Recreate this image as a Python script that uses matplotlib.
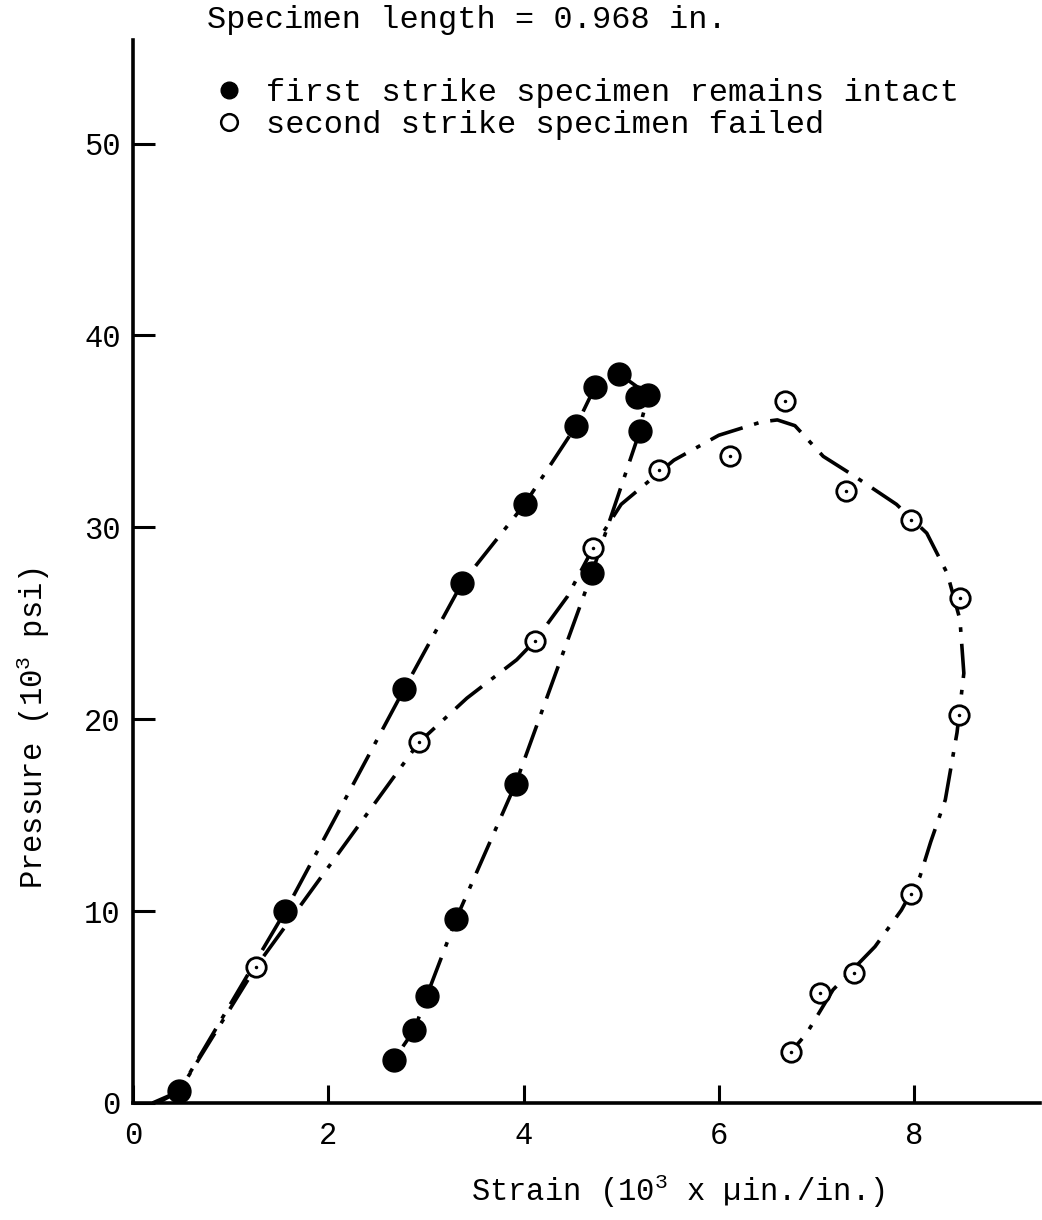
import matplotlib
matplotlib.use("Agg")
import matplotlib.pyplot as plt
from matplotlib.lines import Line2D

plt.rcParams['font.family'] = ['Liberation Mono', 'DejaVu Sans Mono']
plt.rcParams['mathtext.fontset'] = 'custom'
plt.rcParams['mathtext.rm'] = 'Liberation Mono'
plt.rcParams['mathtext.it'] = 'Liberation Mono'

# ---- data (strain in 10^3 uin/in, pressure in 10^3 psi) ----
first_x = [0.47, 1.56, 2.78, 3.37, 4.01, 4.54, 4.73, 4.98, 5.16, 5.28, 5.19,
           4.70, 3.92, 3.31, 3.01, 2.88, 2.67]
first_y = [0.6, 10.0, 21.6, 27.1, 31.2, 35.3, 37.3, 38.0, 36.8, 36.9, 35.0,
           27.6, 16.65, 9.6, 5.6, 3.8, 2.25]

second_x = [0.47, 1.26, 2.93, 4.12, 4.71, 5.39, 6.11, 6.68, 7.30, 7.97, 8.47,
            8.46, 7.97, 7.39, 7.04, 6.74]
second_y = [0.6, 7.1, 18.8, 24.1, 28.9, 33.0, 33.7, 36.6, 31.9, 30.4, 26.3,
            20.2, 10.9, 6.75, 5.75, 2.67]

# hand-drawn fitted curves
first_curve_x = [0.25, 0.47, 1.56, 2.78, 3.37, 4.01, 4.54, 4.73, 4.98, 5.28,
                 5.22, 5.19, 4.70, 3.92, 3.31, 3.01, 2.88, 2.67]
first_curve_y = [0.0, 0.6, 10.0, 21.6, 27.1, 31.2, 35.3, 37.3, 38.0, 36.9,
                 35.8, 35.0, 27.6, 16.65, 9.6, 5.6, 3.8, 2.25]

second_curve_x = [0.2, 0.47, 1.26, 2.93, 3.42, 3.93, 4.12, 4.45, 4.71, 5.0,
                  5.54, 6.0, 6.44, 6.6, 6.78, 7.07, 7.38, 7.82, 8.13, 8.34,
                  8.47, 8.51, 8.44, 8.32, 8.17, 8.06, 7.87, 7.60, 7.17, 6.90,
                  6.74]
second_curve_y = [0.0, 0.6, 7.1, 18.8, 21.1, 23.1, 24.1, 26.4, 28.9, 31.2,
                  33.5, 34.8, 35.5, 35.6, 35.3, 33.7, 32.7, 31.2, 29.7, 27.6,
                  25.2, 22.4, 19.3, 15.8, 13.6, 11.8, 10.05, 8.15, 5.9, 3.63,
                  2.67]

x_ticks = [0, 2, 4, 6, 8]
y_ticks = [0, 10, 20, 30, 40, 50]

title_text = "Specimen length = 0.968 in."
label_first = "first strike specimen remains intact"
label_second = "second strike specimen failed"

W, H = 1042, 1220
fig = plt.figure(figsize=(W / 100, H / 100), dpi=100)
ax = fig.add_axes([133 / W, 117 / H, (1040 - 133) / W, (1103 - 40) / H])
ax.set_xlim(0, 9.29)
ax.set_ylim(0, 55.4)

dash = (0, (9.5, 3.3, 1.3, 3.3))
ax.plot(first_curve_x, first_curve_y, color='black', lw=2.6, linestyle=dash, zorder=2)
ax.plot(second_curve_x, second_curve_y, color='black', lw=2.6, linestyle=dash, zorder=2)

ax.plot(second_x, second_y, linestyle='none', marker='o', markersize=14,
        markerfacecolor='white', markeredgecolor='black', markeredgewidth=2.0, zorder=3)
ax.plot(second_x, second_y, linestyle='none', marker='.', markersize=3,
        color='black', zorder=4)
ax.plot(first_x, first_y, linestyle='none', marker='o', markersize=16.5,
        markerfacecolor='black', markeredgecolor='black', zorder=5)

for s in ['top', 'right']:
    ax.spines[s].set_visible(False)
for s in ['left', 'bottom']:
    ax.spines[s].set_linewidth(2.6)

ax.set_xticks(x_ticks)
ax.set_yticks(y_ticks)
ax.tick_params(axis='x', direction='in', length=13, width=2.2, labelsize=22, pad=13)
ax.tick_params(axis='y', direction='in', length=16, width=2.2, labelsize=22, pad=9)

ax.set_xlabel("Strain (10$^{3}$ x \u00b5in./in.)", fontsize=22)
ax.xaxis.set_label_coords((678 - 133) / (1040 - 133), -(1172 - 1103) / (1103 - 40))
ax.set_ylabel("Pressure (10$^{3}$ psi)", fontsize=22)
ax.yaxis.set_label_coords(-(133 - 52) / (1040 - 133), (1103 - 728) / (1103 - 40))

fig.text(207 / W, 1 - 20 / H, title_text, fontsize=23, ha='left', va='center')

handles = [
    Line2D([], [], linestyle='none', marker='o', markersize=12,
           markerfacecolor='black', markeredgecolor='black'),
    Line2D([], [], linestyle='none', marker='o', markersize=12,
           markerfacecolor='white', markeredgecolor='black', markeredgewidth=1.8),
]
leg = ax.legend(handles, [label_first, label_second], loc='center left',
                bbox_to_anchor=(216 / W, 1 - 109 / H), bbox_transform=fig.transFigure,
                frameon=False, fontsize=23, handlelength=0.8, handletextpad=0.75,
                labelspacing=0.08, borderpad=0, borderaxespad=0)

fig.savefig("out.png", dpi=100, facecolor='white')
